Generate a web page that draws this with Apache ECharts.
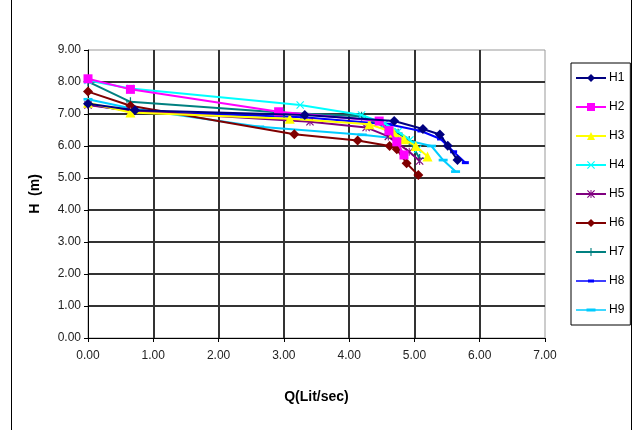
<!DOCTYPE html>
<html>
<head>
<meta charset="utf-8">
<script src="https://cdn.jsdelivr.net/npm/echarts@6/dist/echarts.min.js"></script>
<style>
  html, body { margin: 0; padding: 0; background: #fff; }
  #chart { width: 638px; height: 430px; }
</style>
</head>
<body>
<div id="chart"></div>
<script>
// Pump head H (m) against discharge Q (Lit/sec) for nine test runs
const seriesNames = ['H1', 'H2', 'H3', 'H4', 'H5', 'H6', 'H7', 'H8', 'H9'];

const H1 = [[0, 7.32], [0.72, 7.12], [3.32, 6.97], [4.69, 6.78], [5.13, 6.53], [5.39, 6.36], [5.51, 6.01], [5.66, 5.56]];
const H2 = [[0, 8.10], [0.65, 7.77], [2.92, 7.07], [4.46, 6.78], [4.61, 6.48], [4.73, 6.13], [4.84, 5.72]];
const H3 = [[0, 7.35], [0.65, 7.05], [3.09, 6.85], [4.31, 6.68], [4.68, 6.42], [4.84, 6.21], [5.02, 6.00], [5.20, 5.67]];
const H4 = [[0, 8.05], [0.65, 7.80], [3.25, 7.28], [4.19, 6.97], [4.55, 6.70], [4.75, 6.45], [4.93, 6.19], [5.05, 5.90]];
const H5 = [[0, 7.28], [0.65, 7.10], [3.40, 6.76], [4.26, 6.58], [4.60, 6.30], [4.92, 5.82], [5.08, 5.53]];
const H6 = [[0, 7.70], [0.65, 7.26], [3.16, 6.37], [4.13, 6.17], [4.62, 6.00], [4.73, 5.90], [4.88, 5.46], [5.06, 5.09]];
const H7 = [[0, 8.01], [0.65, 7.38], [3.00, 7.04], [4.19, 6.93], [4.55, 6.60], [4.75, 6.40], [4.92, 6.17], [5.08, 5.61]];
const H8 = [[0, 7.30], [0.70, 7.08], [3.30, 6.90], [4.60, 6.68], [5.10, 6.47], [5.40, 6.22], [5.60, 5.82], [5.78, 5.48]];
const H9 = [[0, 7.46], [0.65, 7.18], [2.63, 6.60], [4.20, 6.35], [4.80, 6.22], [5.26, 6.00], [5.44, 5.56], [5.63, 5.20]];

const xTicks = ['0.00', '1.00', '2.00', '3.00', '4.00', '5.00', '6.00', '7.00'];
const yTicks = ['0.00', '1.00', '2.00', '3.00', '4.00', '5.00', '6.00', '7.00', '8.00', '9.00'];

const seriesData = [H1, H2, H3, H4, H5, H6, H7, H8, H9];
const colors = ['#000080', '#FF00FF', '#FFFF00', '#00FFFF', '#800080', '#800000', '#008080', '#0000FF', '#00CCFF'];

// Marker shapes drawn as filled paths
const xSym = 'path://M1,0 L5,4 L9,0 L10,1 L6,5 L10,9 L9,10 L5,6 L1,10 L0,9 L4,5 L0,1 Z';
const plusSym = 'path://M4.3,0 H5.7 V4.3 H10 V5.7 H5.7 V10 H4.3 V5.7 H0 V4.3 H4.3 Z';
const starSym = 'path://M1,0 L5,4 L9,0 L10,1 L6,5 L10,9 L9,10 L5,6 L1,10 L0,9 L4,5 L0,1 Z M4.4,0 L4.4,10 L5.6,10 L5.6,0 Z';
const shortDash = 'path://M0,0 H7 V3 H0 Z';
const longDash = 'path://M0,0 H10 V3 H0 Z';

const symbols = ['diamond', 'rect', 'triangle', xSym, starSym, 'diamond', plusSym, shortDash, longDash];
const symbolSizes = [10, 9, 10, 8, 8, 10, 9, 7, 9];

// Legend keys for the dash markers: line plus dash, with tiny corner points fixing the 30x10 box
const keyCorners = 'M0,0 L0.01,0 L0,0.01 Z M30,10 L29.99,10 L30,9.99 Z ';
const legendIcons = {
  H8: 'path://' + keyCorners + 'M0,4.2 H30 V5.8 H0 Z M12,3.5 H18 V6.5 H12 Z',
  H9: 'path://' + keyCorners + 'M0,4.2 H30 V5.8 H0 Z M10.5,3.5 H19.5 V6.5 H10.5 Z'
};

const chart = echarts.init(document.getElementById('chart'));

const fontFam = 'Liberation Sans, Arial, sans-serif';

chart.setOption({
  animation: false,
  backgroundColor: '#fff',
  color: colors,
  grid: { left: 88, right: 93, top: 50, bottom: 92, show: true, borderColor: '#999', borderWidth: 1 },
  xAxis: {
    type: 'value', min: 0, max: 7, interval: 1,
    name: 'Q(Lit/sec)', nameLocation: 'middle', nameGap: 52,
    nameTextStyle: { fontFamily: fontFam, fontSize: 14, fontWeight: 'bold', color: '#000' },
    axisLine: { lineStyle: { color: '#000', width: 1 } },
    axisTick: { show: true, length: 4, lineStyle: { color: '#000' } },
    axisLabel: {
      margin: 12, fontFamily: fontFam, fontSize: 12, color: '#222',
      formatter: v => xTicks[Math.round(v)]
    },
    splitLine: { show: true, showMinLine: false, showMaxLine: false, lineStyle: { color: '#333', width: 2 } }
  },
  yAxis: {
    type: 'value', min: 0, max: 9, interval: 1,
    name: 'H  (m)', nameLocation: 'middle', nameGap: 46,
    nameTextStyle: { fontFamily: fontFam, fontSize: 14, fontWeight: 'bold', color: '#000' },
    axisLine: { show: true, lineStyle: { color: '#000', width: 1 } },
    axisTick: { show: true, length: 4, lineStyle: { color: '#000' } },
    axisLabel: {
      margin: 7, fontFamily: fontFam, fontSize: 12, color: '#222',
      formatter: v => yTicks[Math.round(v)]
    },
    splitLine: { show: true, showMinLine: false, showMaxLine: false, lineStyle: { color: '#333', width: 2 } }
  },
  legend: {
    orient: 'vertical', left: 571, top: 63,
    padding: [9, 6, 9, 4],
    itemGap: 17,
    itemWidth: 30, itemHeight: 10,
    borderColor: '#000', borderWidth: 1,
    textStyle: { fontFamily: fontFam, fontSize: 12, color: '#000', padding: [0, 0, 0, -2] },
    data: seriesNames.map(n => legendIcons[n] ? { name: n, icon: legendIcons[n] } : n)
  },
  graphic: [{
    type: 'rect', silent: true,
    shape: { x: 11.5, y: -5, width: 620, height: 445 },
    style: { fill: 'none', stroke: '#000', lineWidth: 1 }
  }],
  series: seriesNames.map((n, i) => ({
    name: n,
    type: 'line',
    data: seriesData[i],
    symbol: symbols[i],
    symbolSize: symbolSizes[i],
    symbolKeepAspect: true,
    showAllSymbol: true,
    lineStyle: { width: 2, color: colors[i] },
    itemStyle: { color: colors[i] },
    z: 10 - i
  }))
});
</script>
</body>
</html>
